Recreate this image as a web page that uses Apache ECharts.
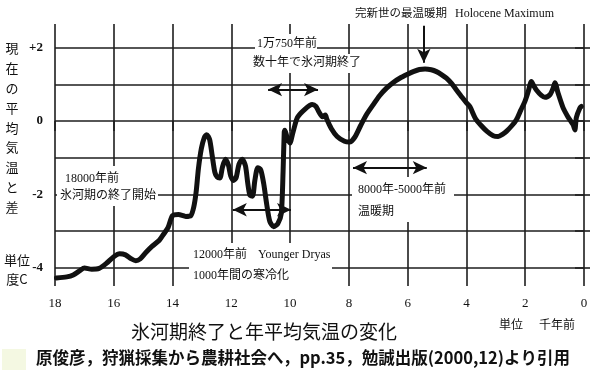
<!DOCTYPE html>
<html><head><meta charset="utf-8">
<script src="https://cdn.jsdelivr.net/npm/echarts@6/dist/echarts.min.js"></script>
<style>html,body{margin:0;padding:0;background:#fff}#c{width:594px;height:372px}</style>
</head><body><div id="c"></div>
<script>
// thousand years ago
const years = [17.95,17.6,17.38,17.15,17.0,16.75,16.5,16.25,16.0,15.8,15.6,15.4,15.25,15.1,14.9,14.7,14.45,14.3,14.15,14.0,13.8,13.55,13.38,13.28,13.2,13.12,13.02,12.92,12.84,12.74,12.65,12.56,12.48,12.39,12.3,12.2,12.1,12.02,11.93,11.84,11.74,11.63,11.52,11.44,11.37,11.28,11.2,11.1,11.0,10.9,10.8,10.69,10.56,10.42,10.3,10.24,10.2,10.18,10.1,10.01,9.9,9.75,9.5,9.25,9.12,9.02,8.9,8.8,8.75,8.6,8.4,8.15,7.98,7.8,7.6,7.4,7.17,6.95,6.72,6.5,6.27,6.0,5.81,5.6,5.41,5.2,5.02,4.85,4.68,4.5,4.34,4.15,3.99,3.88,3.7,3.5,3.3,3.09,2.92,2.75,2.64,2.45,2.3,2.15,2.01,1.9,1.79,1.7,1.62,1.45,1.33,1.16,1.05,0.99,0.88,0.71,0.55,0.45,0.37,0.31,0.26,0.14,0.09];
// temperature difference from present mean (°C)
const temps = [-4.28,-4.25,-4.2,-4.08,-4.01,-4.04,-4.02,-3.88,-3.7,-3.62,-3.65,-3.76,-3.81,-3.76,-3.58,-3.42,-3.25,-3.08,-2.9,-2.58,-2.55,-2.6,-2.58,-2.35,-1.95,-1.3,-0.75,-0.45,-0.37,-0.5,-0.95,-1.4,-1.53,-1.55,-1.25,-1.04,-1.2,-1.5,-1.62,-1.55,-1.18,-1.04,-1.22,-1.7,-2.02,-2.05,-1.62,-1.27,-1.33,-1.7,-2.25,-2.74,-2.88,-2.8,-2.52,-1.4,-0.3,-0.25,-0.45,-0.6,-0.3,0.1,0.32,0.45,0.4,0.25,0.12,0.17,0.05,-0.2,-0.42,-0.55,-0.57,-0.44,-0.12,0.18,0.45,0.7,0.9,1.05,1.17,1.28,1.35,1.41,1.42,1.4,1.35,1.27,1.17,1.02,0.85,0.65,0.49,0.39,0.08,-0.12,-0.28,-0.4,-0.42,-0.35,-0.28,-0.12,0.04,0.3,0.54,0.8,1.08,0.95,0.85,0.7,0.65,0.72,0.9,1.05,0.76,0.36,0.12,0.0,-0.1,-0.24,0.1,0.36,0.4];
const yLabelValues = [2, 0, -2, -4];
const gridValues = [2, 1, 0, -1, -2, -3, -4];
// annotation arrows [from(ka), to(ka), level(°C)]
const arrowTransition = [10.75, 9.05, 0.86];
const arrowYoungerDryas = [11.95, 9.97, -2.42];
const arrowWarm = [7.86, 5.35, -1.27];
const arrowHolocene = [5.45, 2.6, 1.59]; // [ka, from level, to level]
const yTitle = ['現','在','の','平','均','気','温','と','差'];

const serif = "'Liberation Serif','Noto Sans CJK JP',serif";
const jp = "'Noto Sans CJK JP',sans-serif";
const ink = '#111';

const chart = echarts.init(document.getElementById('c'), null, {renderer: 'canvas'});

function dbl(a){ return [{coord:[a[0],a[2]]},{coord:[a[1],a[2]]}]; }

const graphics = [];
function rect(x,y,w,h,fill){ graphics.push({type:'rect', z:50, silent:true, shape:{x,y,width:w,height:h}, style:{fill:fill||'#fff'}}); }
function txt(s,x,y,font,opts){ graphics.push(Object.assign({type:'text', z:60, silent:true, style:Object.assign({text:s, x, y, font, fill:ink, textVerticalAlign:'middle'}, opts||{})})); }

rect(57,166,101,40);
rect(255,34,62,20);
rect(251,54,106,19);
rect(352,177,102,45);
rect(189,243,143,43);
rect(2,349,24,21,'#f4f8e2');

const f12 = '12px '+serif;
txt('18000年前',65,179,f12);
txt('氷河期の終了開始',60,196,f12);
txt('1万750年前',257,44,f12);
txt('数十年で氷河期終了',253,63,f12);
txt('完新世の最温暖期',355,14,'11.5px '+serif);
txt('Holocene Maximum',455,14,f12);
txt('8000年-5000年前',358,190,f12);
txt('温暖期',358,212,f12);
txt('12000年前',193,255,f12);
txt('Younger Dryas',258,255,f12);
txt('1000年間の寒冷化',193,276,f12);
yTitle.forEach((ch,i)=>txt(ch,12,48+i*19.9,'13px '+jp,{textAlign:'center'}));
txt('単位',17,260,'13px '+jp,{textAlign:'center'});
txt('度C',17,279,'13px '+jp,{textAlign:'center'});
txt('単位',499,324,'12px '+jp);
txt('千年前',539,324,'12px '+jp);
txt('氷河期終了と年平均気温の変化',264,332,'19px '+jp,{textAlign:'center'});
txt('原俊彦，狩猟採集から農耕社会へ，pp.35，勉誠出版(2000,12)より引用',303,358,'bold 16.5px '+jp,{textAlign:'center'});

const lineC = '#1e1e1e';

chart.setOption({
  animation: false,
  backgroundColor: '#fff',
  grid: {left: 55, right: 10, top: 24, bottom: 86},
  xAxis: {
    type: 'value', min: 0, max: 18, interval: 2, inverse: true,
    axisLine: {show: false},
    axisTick: {show: true, length: 10, lineStyle: {color: lineC, width: 1.6}},
    axisLabel: {margin: 11, color: ink, fontFamily: serif, fontSize: 13},
    splitLine: {show: true, lineStyle: {color: lineC, width: 1.6}}
  },
  yAxis: [{
    type: 'value', min: -4.5, max: 2.65,
    axisLine: {show: false},
    splitLine: {show: false},
    axisTick: {show: true, length: 9, customValues: gridValues, lineStyle: {color: lineC, width: 1.6}},
    axisLabel: {customValues: yLabelValues, margin: 12, color: ink, fontFamily: serif, fontSize: 13, fontWeight: 'bold',
      formatter: v => v > 0 ? '+' + v : String(v)}
  }, {
    type: 'value', min: -4.5, max: 2.65, position: 'right',
    axisLine: {show: false}, splitLine: {show: false},
    axisTick: {show: true, length: 6, customValues: gridValues, lineStyle: {color: lineC, width: 1.6}},
    axisLabel: {show: false}
  }],
  series: [{
    type: 'line', data: [], z: 1, silent: true,
    markLine: {silent: true, symbol: 'none', label: {show: false},
      lineStyle: {color: lineC, width: 1.6, type: 'solid'},
      data: gridValues.map(v => ({yAxis: v}))}
  }, {
    type: 'line', z: 5, silent: true,
    data: years.map((t, i) => [t, temps[i]]),
    showSymbol: false, smooth: 0.25,
    lineStyle: {color: ink, width: 5, cap: 'round', join: 'round'}
  }, {
    type: 'line', data: [], z: 6, silent: true,
    markLine: {silent: true, symbol: ['arrow', 'arrow'], symbolSize: [10, 14], label: {show: false},
      lineStyle: {color: ink, width: 2, type: 'solid'},
      data: [dbl(arrowTransition), dbl(arrowYoungerDryas), dbl(arrowWarm),
        [{coord: [arrowHolocene[0], arrowHolocene[1]], symbol: 'none'}, {coord: [arrowHolocene[0], arrowHolocene[2]], symbol: 'arrow'}]]}
  }],
  graphic: {elements: graphics}
});
</script></body></html>
